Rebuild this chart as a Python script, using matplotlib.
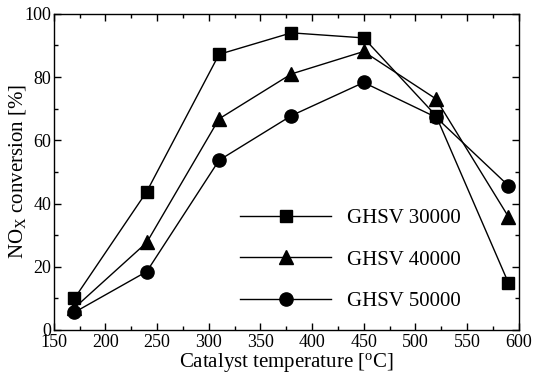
import matplotlib
matplotlib.use("Agg")
import matplotlib.pyplot as plt
from matplotlib.ticker import MultipleLocator

plt.rcParams["font.family"] = ["Liberation Serif", "DejaVu Serif"]
plt.rcParams["mathtext.fontset"] = "custom"
plt.rcParams["mathtext.rm"] = "Liberation Serif"
plt.rcParams["mathtext.it"] = "Liberation Serif:italic"

temperature = [170, 240, 310, 380, 450, 520, 590]
ghsv_30000 = [10.0, 43.8, 87.2, 94.0, 92.4, 67.8, 15.0]
ghsv_40000 = [7.0, 27.7, 66.8, 81.0, 88.1, 73.1, 35.9]
ghsv_50000 = [5.6, 18.5, 53.7, 67.8, 78.3, 67.3, 45.7]

series = [
    ("GHSV 30000", ghsv_30000, "s", 9),
    ("GHSV 40000", ghsv_40000, "^", 9.5),
    ("GHSV 50000", ghsv_50000, "o", 9.5),
]

fig = plt.figure(figsize=(5.33, 3.75), dpi=100)
ax = fig.add_axes([0.101, 0.12, 0.872, 0.843])

for label, vals, marker, ms in series:
    ax.plot(temperature, vals, color="black", lw=1.0, marker=marker,
            markersize=ms, label=label)

ax.set_xlim(150, 600)
ax.set_ylim(0, 100)
ax.xaxis.set_major_locator(MultipleLocator(50))
ax.xaxis.set_minor_locator(MultipleLocator(25))
ax.yaxis.set_major_locator(MultipleLocator(20))
ax.yaxis.set_minor_locator(MultipleLocator(10))
ax.tick_params(which="both", direction="in", top=True, right=True,
               labelsize=13, width=1.0, pad=2)
ax.tick_params(axis="x", which="both", pad=3)
ax.tick_params(which="major", length=5)
ax.tick_params(which="minor", length=3)
for s in ax.spines.values():
    s.set_linewidth(1.0)

ax.set_xlabel("Catalyst temperature [$^{\\rm o}$C]", fontsize=15, labelpad=0)
ax.set_ylabel("NO$_{\\rm X}$ conversion [%]", fontsize=15, labelpad=-3)

ax.legend(loc="lower left", bbox_to_anchor=(0.40, 0.06), frameon=False,
          fontsize=15, handlelength=4.4, handletextpad=0.77,
          labelspacing=1.05, borderpad=0, borderaxespad=0)

fig.savefig("out.png", dpi=100)
